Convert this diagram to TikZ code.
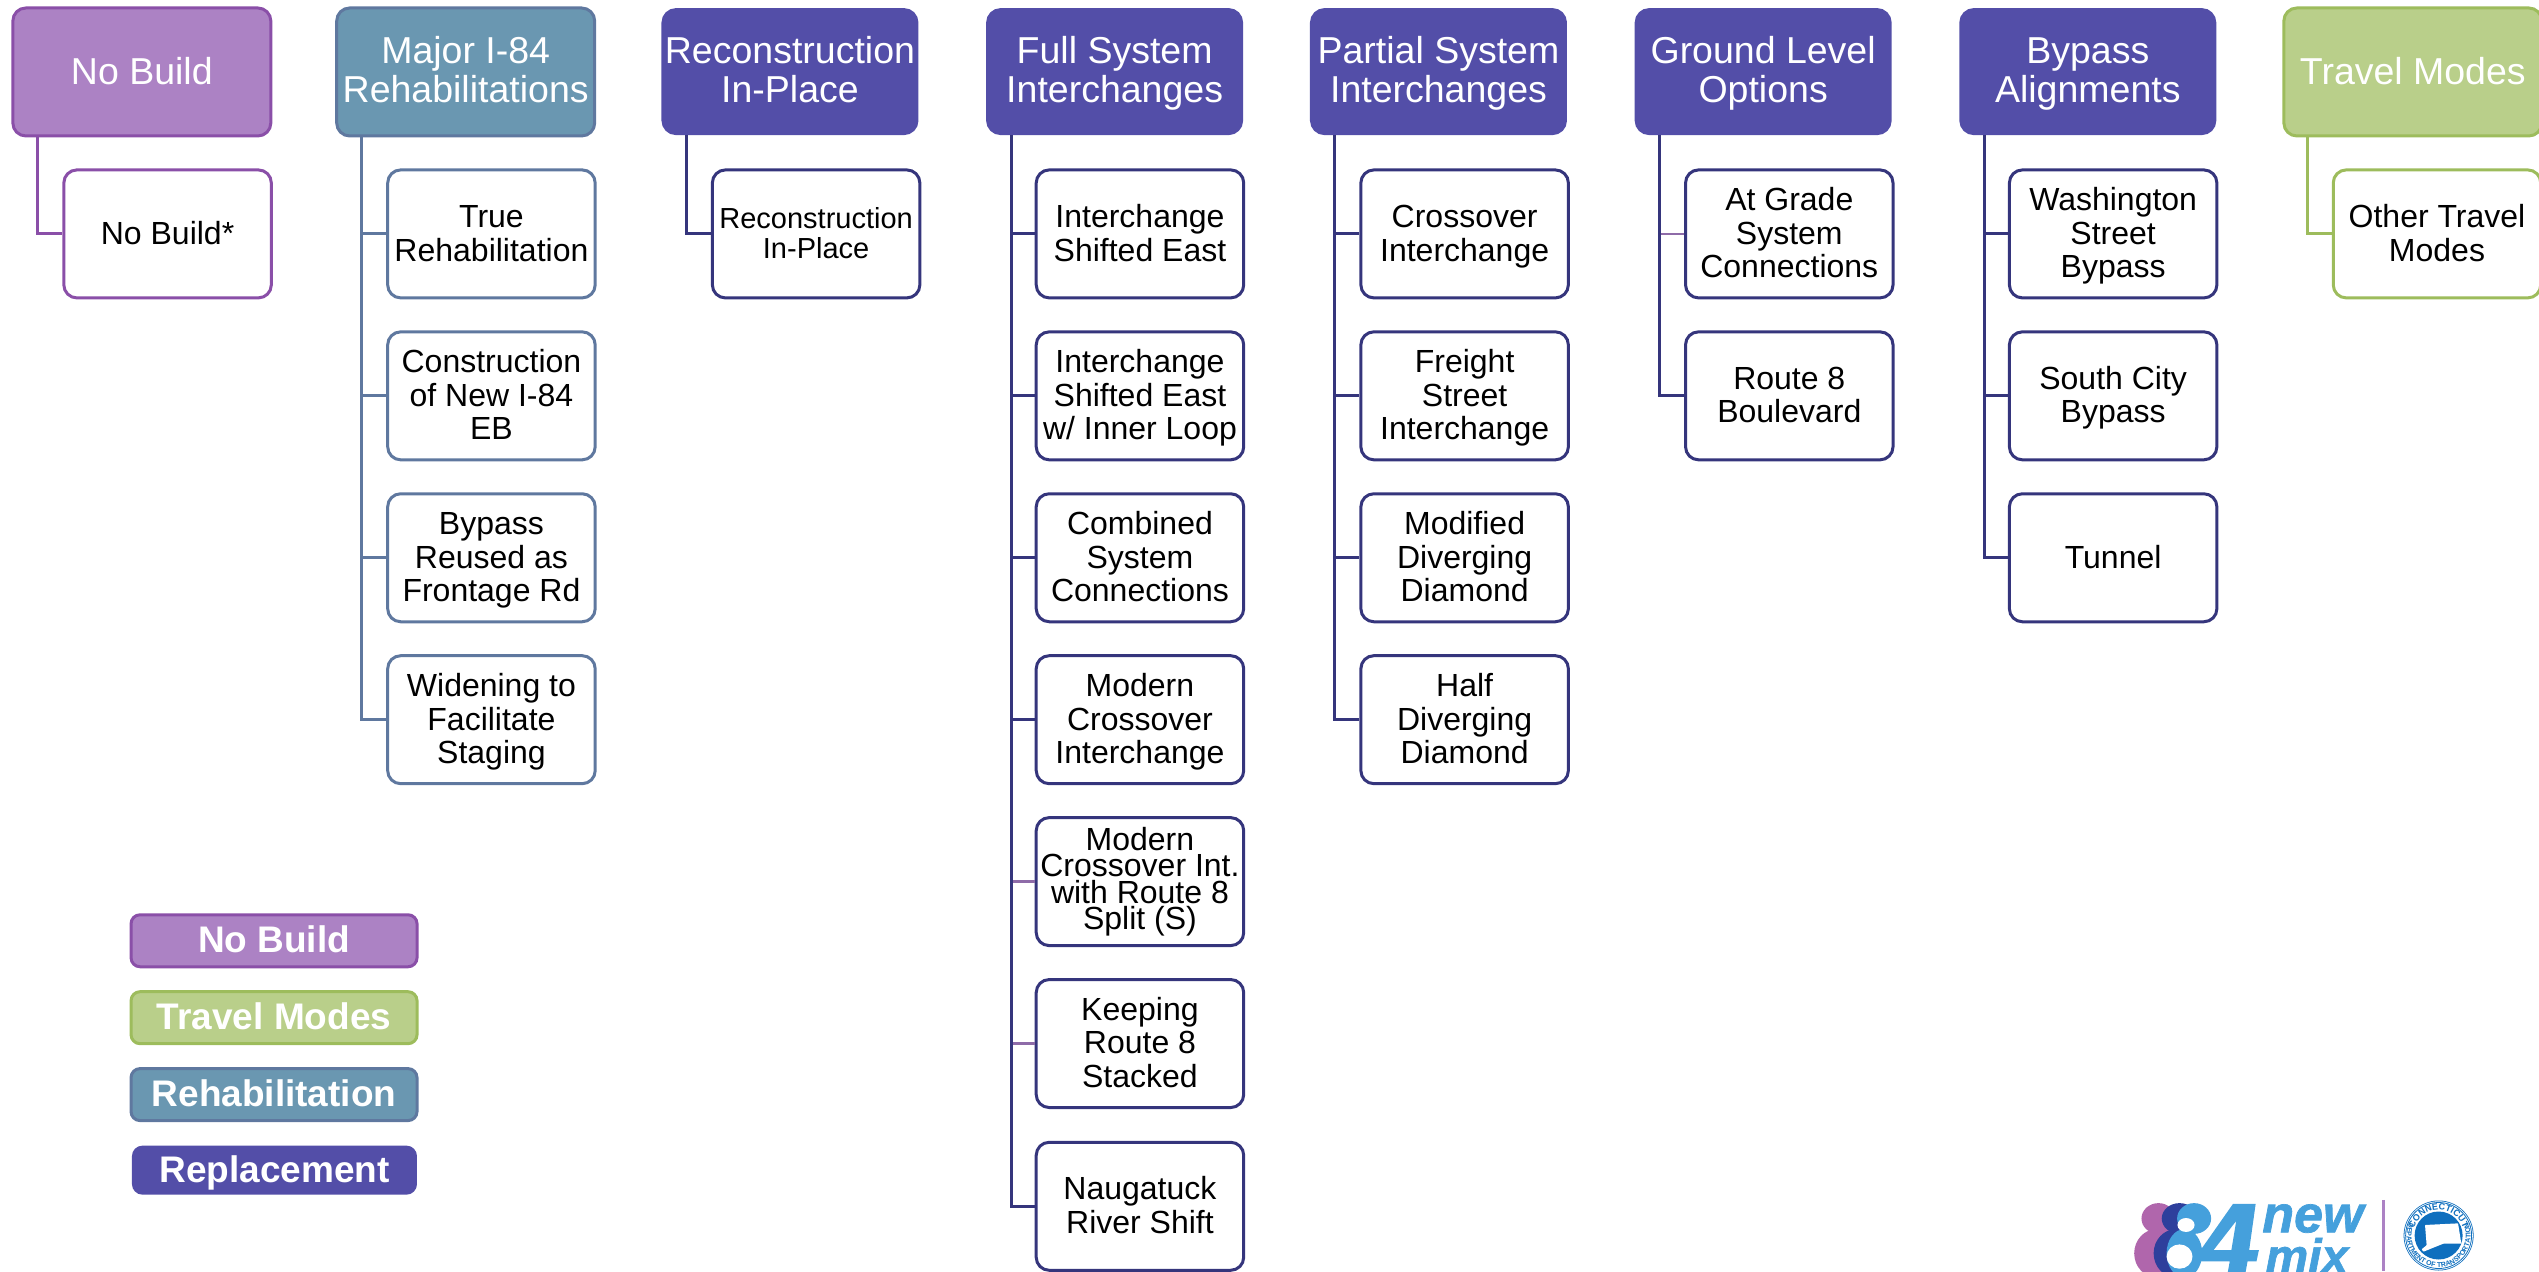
\documentclass[tikz,border=0pt]{standalone}
\usepackage{fontspec}
\setmainfont{Liberation Sans}
\newfontfamily\logofont[BoldItalicFeatures={FakeBold=1.4}]{Liberation Sans}
\usetikzlibrary{calc,decorations.text}
\definecolor{nbF}{HTML}{AC82C4}\definecolor{nbS}{HTML}{8A4FA8}
\definecolor{rhF}{HTML}{6A97B1}\definecolor{rhS}{HTML}{5F789F}
\definecolor{rpF}{HTML}{534EA8}\definecolor{rpS}{HTML}{35357C}
\definecolor{tmF}{HTML}{B9CF8A}\definecolor{tmS}{HTML}{9DBC5C}
\definecolor{mixblue}{HTML}{45A0DC}\definecolor{sealblue}{HTML}{0F6FBE}
\definecolor{mixpurple}{HTML}{B066AC}\definecolor{mixnavy}{HTML}{2E3F9C}
\definecolor{branchpurple}{HTML}{8E6BA8}
\newcommand\tlc{\rule{0pt}{.86em}}
\newcommand\tlh{\rule{0pt}{.82em}}
\tikzset{
 x=1.6193pt,y=-1.6193pt,
 basebox/.style={rounded corners=13pt,line width=3pt,align=center,inner sep=0pt,anchor=north west,
   execute at begin node={\rule{0pt}{.86em}},execute at end node={\rule[-.21em]{0pt}{.21em}}},
 headbox/.style={basebox,minimum width=258pt,minimum height=128pt,text=white,
   font=\fontsize{37.5}{39}\selectfont},
 repbox/.style={headbox,minimum width=254pt,minimum height=124pt},
 childbox/.style={basebox,fill=white,minimum width=207.5pt,minimum height=128pt,text=black,
   font=\fontsize{32}{33.5}\selectfont},
 keybox/.style={basebox,rounded corners=9pt,minimum width=286pt,minimum height=52pt,text=white,
   font=\fontsize{37}{39}\selectfont\bfseries},
 nb/.style={draw=nbS,fill=nbF}, rh/.style={draw=rhS,fill=rhF},
 rp/.style={draw=rpF,fill=rpF}, tm/.style={draw=tmS,fill=tmF},
 cnb/.style={draw=nbS}, crh/.style={draw=rhS}, crp/.style={draw=rpS}, ctm/.style={draw=tmS},
 link/.style={line width=3pt},
 branchlink/.style={line width=2.6pt,branchpurple},
 logotext/.style={inner sep=0pt,text=mixblue,anchor=base west,font=\logofont\fontsize{52}{52}\selectfont\bfseries\itshape},
}
\begin{document}
\begin{tikzpicture}
\useasboundingbox (0,0) rectangle (1568,785);
\clip (0,0) rectangle (1568,785);
\begin{scope}[shift={(-1,-1)}]
% headers
\node[headbox,nb] (h1) at (8,5) {No Build};
\node[headbox,rh] (h2) at (208,5) {\tlh Major I-84\\Rehabilitations};
\node[repbox,rp] (h3) at (409.5,6) {\tlh Reconstruction\\In-Place};
\node[repbox,rp] (h4) at (610,6) {\tlh Full System\\Interchanges};
\node[repbox,rp] (h5) at (810,6) {\tlh Partial System\\Interchanges};
\node[repbox,rp] (h6) at (1010.5,6) {\tlh Ground Level\\Options};
\node[repbox,rp] (h7) at (1211,6) {\tlh Bypass\\Alignments};
\node[headbox,tm] (h8) at (1410.5,5) {Travel Modes};
% children
\node[childbox,cnb] (c11) at (39.5,105) {No Build*};
\node[childbox,crh] (c21) at (239.5,105) {\tlc True\\Rehabilitation};
\node[childbox,crh] (c22) at (239.5,205) {\tlc Construction\\of New I-84\\EB};
\node[childbox,crh] (c23) at (239.5,305) {\tlc Bypass\\Reused as\\Frontage Rd};
\node[childbox,crh] (c24) at (239.5,405) {\tlc Widening to\\Facilitate\\Staging};
\node[childbox,crp,font=\fontsize{29}{30}\selectfont] (c31) at (440,105) {\tlc Reconstruction\\In-Place};
\node[childbox,crp] (c41) at (640,105) {\tlc Interchange\\Shifted East};
\node[childbox,crp] (c42) at (640,205) {\tlc Interchange\\Shifted East\\w/ Inner Loop};
\node[childbox,crp] (c43) at (640,305) {\tlc Combined\\System\\Connections};
\node[childbox,crp] (c44) at (640,405) {\tlc Modern\\Crossover\\Interchange};
\node[childbox,crp,font=\fontsize{32}{26.5}\selectfont] (c45) at (640,505) {Modern\\Crossover Int.\\with Route 8\\Split (S)};
\node[childbox,crp] (c46) at (640,605) {\tlc Keeping\\Route 8\\Stacked};
\node[childbox,crp] (c47) at (640,705.5) {\tlc Naugatuck\\River Shift};
\node[childbox,crp] (c51) at (840.5,105) {\tlc Crossover\\Interchange};
\node[childbox,crp] (c52) at (840.5,205) {\tlc Freight\\Street\\Interchange};
\node[childbox,crp] (c53) at (840.5,305) {\tlc Modified\\Diverging\\Diamond};
\node[childbox,crp] (c54) at (840.5,405) {\tlc Half\\Diverging\\Diamond};
\node[childbox,crp] (c61) at (1041,105) {\tlc At Grade\\System\\Connections};
\node[childbox,crp] (c62) at (1041,205) {\tlc Route 8\\Boulevard};
\node[childbox,crp] (c71) at (1241,105) {\tlc Washington\\Street\\Bypass};
\node[childbox,crp] (c72) at (1241,205) {\tlc South City\\Bypass};
\node[childbox,crp] (c73) at (1241,305) {Tunnel};
\node[childbox,ctm] (c81) at (1441,105) {\tlc Other Travel\\Modes};
% connectors
\draw[link,nbS] ([xshift=26.5pt]h1.south west) |- (c11.west);
\foreach \n in {1,2,3,4} \draw[link,rhS] ([xshift=26.5pt]h2.south west) |- (c2\n.west);
\draw[link,rpS] ([xshift=25.5pt]h3.south west) |- (c31.west);
\foreach \n in {1,2,3,4,7} \draw[link,rpS] ([xshift=25pt]h4.south west) |- (c4\n.west);
\foreach \n in {5,6} \draw[branchlink] ([xshift=25pt]h4.south west |- c4\n.west) -- (c4\n.west);
\draw[link,rpS] ([xshift=25pt]h4.south west) -- ([xshift=25pt]h4.south west |- c47.west);
\foreach \n in {1,2,3,4} \draw[link,rpS] ([xshift=25pt]h5.south west) |- (c5\n.west);
\draw[branchlink] ([xshift=25pt]h6.south west |- c61.west) -- (c61.west);
\draw[link,rpS] ([xshift=25pt]h6.south west) |- (c62.west);
\foreach \n in {1,2,3} \draw[link,rpS] ([xshift=25pt]h7.south west) |- (c7\n.west);
\draw[link,tmS] ([xshift=25pt]h8.south west) |- (c81.west);
% legend
\node[keybox,nb] (k1) at (81,565) {No Build};
\node[keybox,tm] (k2) at (81,612.5) {Travel Modes};
\node[keybox,rh] (k3) at (81,660) {Rehabilitation};
\node[keybox,rp,minimum width=282pt,minimum height=46pt] (k4) at (82.5,708.5) {Replacement};
\end{scope}
% logo: 84 new mix
\fill[mixpurple] (1333,752.5) ellipse [x radius=10.5,y radius=9.5];
\fill[mixpurple] (1332,774) ellipse [x radius=14,y radius=15];
\fill[mixnavy] (1346,752.5) ellipse [x radius=11,y radius=9.5];
\fill[mixnavy] (1344,774) ellipse [x radius=14,y radius=15];
\fill[mixblue] (1355,752.5) ellipse [x radius=10.5,y radius=9.5];
\fill[mixblue] (1349,774) ellipse [x radius=11,y radius=15];
\fill[white] (1350,756.5) ellipse [x radius=5.3,y radius=4.3];
\fill[white] (1346,776) ellipse [x radius=8,y radius=7.5];
\fill[mixblue,even odd rule] (1379,743.5) -- (1393,743.5) -- (1389,772) -- (1395,772) -- (1393.5,779) -- (1388,779) -- (1386,790) -- (1375,790) -- (1377,779) -- (1358,779) -- (1359,772) -- cycle
  (1381,754) -- (1378,772) -- (1367,772) -- cycle;
\node[logotext] (lnew) at (1397,761) {new};
\node[logotext,font=\logofont\fontsize{48}{48}\selectfont\bfseries\itshape] (lmix) at (1399,786) {mix};
\draw[line width=3pt,nbF] (1472,741) -- (1472,785);
\coordinate (seal) at (1506,763);
\fill[sealblue] (seal) circle (35pt);
\fill[white] (seal) circle (34.2pt);
\draw[sealblue,line width=.8pt] (seal) circle (33pt);
\fill[sealblue] (seal) circle (24pt);
\path[decorate,decoration={text along path,text align=center,
  text={|\fontsize{9}{9}\selectfont\bfseries\color{sealblue}|CONNECTICUT}}]
  ($(seal)+(180:25.5pt)$) arc[start angle=180,end angle=0,radius=25.5pt];
\path[decorate,decoration={text along path,text align=center,
  text={|\fontsize{7}{7}\selectfont\bfseries\color{sealblue}|DEPARTMENT OF TRANSPORTATION}}]
  ($(seal)+(150:32pt)$) arc[start angle=150,end angle=390,radius=32pt];
\fill[white,rounded corners=.6pt] (1497.6,756.5) -- (1518,755.5) -- (1520,768) -- (1509,768) -- (1496.6,773) -- (1495.5,771.5) -- (1498.6,769) -- cycle;
\end{tikzpicture}
\end{document}
